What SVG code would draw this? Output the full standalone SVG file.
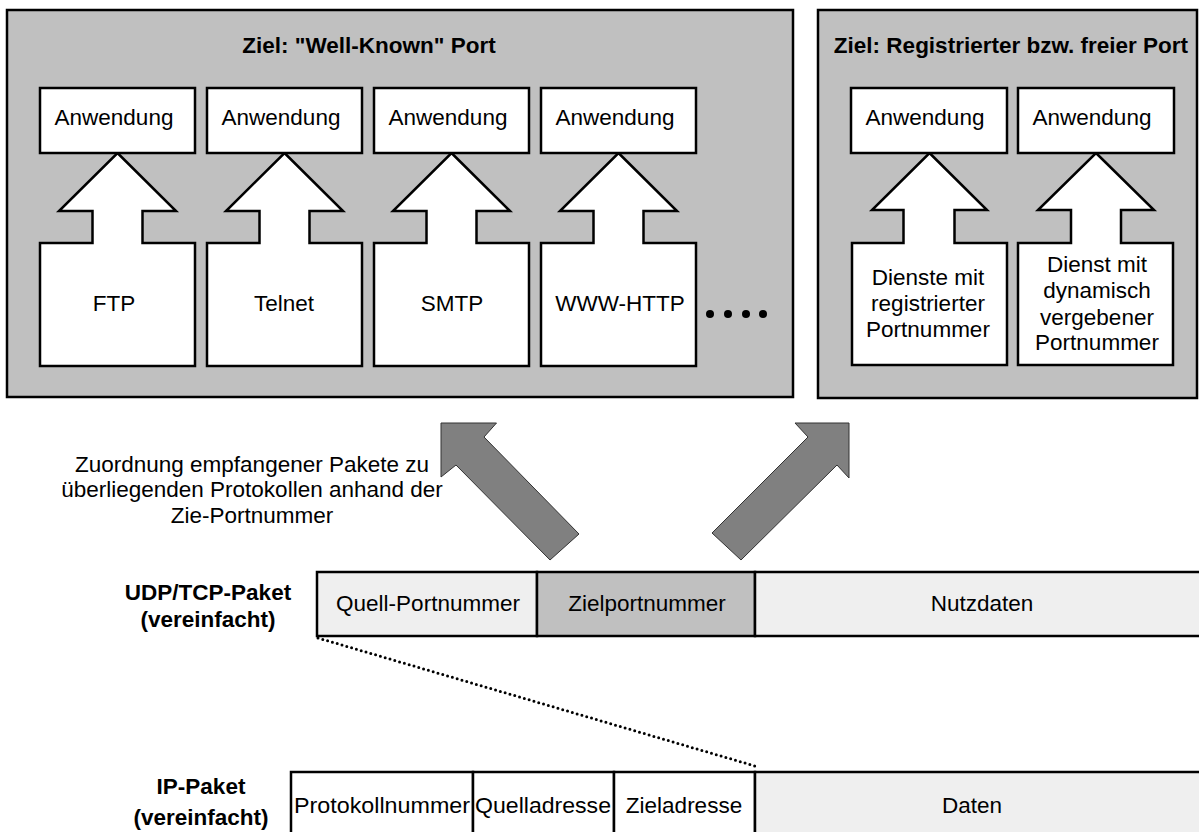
<svg xmlns="http://www.w3.org/2000/svg" width="1199" height="832" viewBox="0 0 1199 832">
  <style>
    text { font-family: "Liberation Sans", Arial, sans-serif; font-size: 22.5px; fill: #000; }
    .bold { font-weight: bold; }
    .mid { text-anchor: middle; }
    .panel { fill: #c0c0c0; stroke: #000; stroke-width: 2.5; }
    .app { fill: #fff; stroke: #000; stroke-width: 2.5; }
    .proto { fill: #fff; stroke: #000; stroke-width: 2.5; stroke-linejoin: miter; }
    .cell-light { fill: #efefef; stroke: #000; stroke-width: 2.5; }
    .cell-dark { fill: #c0c0c0; stroke: #000; stroke-width: 2.5; }
    .cell-white { fill: #fff; stroke: #000; stroke-width: 2.5; }
    .bigarrow { fill: #808080; stroke: #333; stroke-width: 1; stroke-linejoin: miter; }
    .dotted { fill: none; stroke: #000; stroke-width: 3; stroke-linecap: round; stroke-dasharray: 0 5; }
  </style>

  <!-- Well-known ports panel -->
  <g id="panel-well-known">
    <rect class="panel" x="7" y="10" width="786" height="387"/>
    <text class="bold mid" x="369" y="53">Ziel: "Well-Known" Port</text>
  </g>

  <!-- Registered / free ports panel -->
  <g id="panel-registered">
    <rect class="panel" x="818" y="10" width="379" height="388"/>
    <text class="bold mid" x="1011" y="53">Ziel: Registrierter bzw. freier Port</text>
  </g>

  <!-- Protocol blocks with upward arrows to their applications -->
  <g id="ftp">
    <path class="proto" d="M117.5,153 L176,211 L142.5,211 L142.5,243 L195,243 L195,366 L40,366 L40,243 L92.5,243 L92.5,211 L59,211 Z"/>
    <rect class="app" x="40" y="88" width="155" height="65"/>
    <text class="mid" x="114" y="125">Anwendung</text>
    <text class="mid" x="114" y="311">FTP</text>
  </g>
  <g id="telnet">
    <path class="proto" d="M284.5,153 L343,211 L309.5,211 L309.5,243 L362,243 L362,366 L207,366 L207,243 L259.5,243 L259.5,211 L226,211 Z"/>
    <rect class="app" x="207" y="88" width="155" height="65"/>
    <text class="mid" x="281" y="125">Anwendung</text>
    <text class="mid" x="284" y="311">Telnet</text>
  </g>
  <g id="smtp">
    <path class="proto" d="M451.5,153 L510,211 L476.5,211 L476.5,243 L529,243 L529,366 L374,366 L374,243 L426.5,243 L426.5,211 L393,211 Z"/>
    <rect class="app" x="374" y="88" width="155" height="65"/>
    <text class="mid" x="448" y="125">Anwendung</text>
    <text class="mid" x="452" y="311">SMTP</text>
  </g>
  <g id="www-http">
    <path class="proto" d="M618.5,153 L677,211 L643.5,211 L643.5,243 L696,243 L696,366 L541,366 L541,243 L593.5,243 L593.5,211 L560,211 Z"/>
    <rect class="app" x="541" y="88" width="155" height="65"/>
    <text class="mid" x="615" y="125">Anwendung</text>
    <text class="mid" x="620" y="311">WWW-HTTP</text>
  </g>
  <g id="more">
    <circle cx="710" cy="314" r="4"/>
    <circle cx="728" cy="314" r="4"/>
    <circle cx="746" cy="314" r="4"/>
    <circle cx="763" cy="314" r="4"/>
  </g>

  <g id="registered-service">
    <path class="proto" d="M929.5,153 L987,210 L954.5,210 L954.5,243 L1007,243 L1007,365 L852,365 L852,243 L903.5,243 L903.5,210 L872,210 Z"/>
    <rect class="app" x="851" y="88" width="156" height="65"/>
    <text class="mid" x="925" y="125">Anwendung</text>
    <text class="mid" x="928" y="285">Dienste mit</text>
    <text class="mid" x="928" y="311">registrierter</text>
    <text class="mid" x="928" y="337">Portnummer</text>
  </g>
  <g id="dynamic-service">
    <path class="proto" d="M1096,153 L1154,210 L1121,210 L1121,243 L1173,243 L1173,365 L1018,365 L1018,243 L1071,243 L1071,210 L1038,210 Z"/>
    <rect class="app" x="1018" y="88" width="156" height="65"/>
    <text class="mid" x="1092" y="125">Anwendung</text>
    <text class="mid" x="1097" y="272">Dienst mit</text>
    <text class="mid" x="1097" y="298">dynamisch</text>
    <text class="mid" x="1097" y="325">vergebener</text>
    <text class="mid" x="1097" y="350">Portnummer</text>
  </g>

  <!-- Dispatch arrows and the packet-to-packet link -->
  <g id="connectors">
    <polygon class="bigarrow" points="441,423 496.5,423 484,437 579,534 550,560 456,465 441,477"/>
    <polygon class="bigarrow" points="795,423 849,423 849,478 837,465 741,560 712,533 808,437"/>
    <line class="dotted" x1="318" y1="638" x2="755" y2="766"/>
  </g>

  <g id="dispatch-note">
    <text class="mid" x="252" y="472">Zuordnung empfangener Pakete zu</text>
    <text class="mid" x="252" y="497">überliegenden Protokollen anhand der</text>
    <text class="mid" x="252" y="523">Zie-Portnummer</text>
  </g>

  <!-- UDP/TCP packet -->
  <g id="udp-tcp-packet">
    <text class="bold mid" x="208" y="600">UDP/TCP-Paket</text>
    <text class="bold mid" x="208" y="627">(vereinfacht)</text>
    <rect class="cell-light" x="317" y="572" width="220" height="64"/>
    <rect class="cell-dark" x="537" y="572" width="218" height="64"/>
    <rect class="cell-light" x="755" y="572" width="460" height="64"/>
    <text class="mid" x="428" y="611">Quell-Portnummer</text>
    <text class="mid" x="647" y="611">Zielportnummer</text>
    <text class="mid" x="982" y="611">Nutzdaten</text>
  </g>

  <!-- IP packet -->
  <g id="ip-packet">
    <text class="bold mid" x="201" y="794">IP-Paket</text>
    <text class="bold mid" x="201" y="825">(vereinfacht)</text>
    <rect class="cell-white" x="291" y="772" width="182" height="80"/>
    <rect class="cell-white" x="473" y="772" width="141" height="80"/>
    <rect class="cell-white" x="614" y="772" width="141" height="80"/>
    <rect class="cell-light" x="755" y="772" width="460" height="80"/>
    <text class="mid" x="382" y="813" textLength="176" lengthAdjust="spacingAndGlyphs">Protokollnummer</text>
    <text class="mid" x="543" y="813" textLength="136" lengthAdjust="spacingAndGlyphs">Quelladresse</text>
    <text class="mid" x="684" y="813">Zieladresse</text>
    <text class="mid" x="972" y="813">Daten</text>
  </g>
</svg>
